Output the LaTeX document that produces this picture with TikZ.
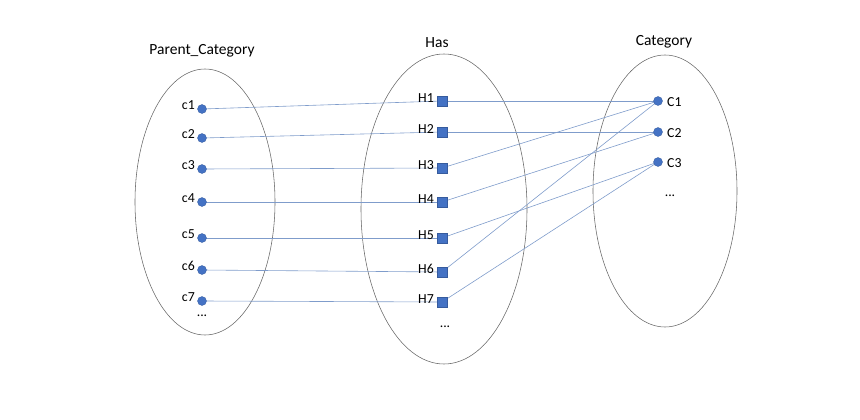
\documentclass[tikz,border=0pt]{standalone}
\usepackage{fontspec}
\setmainfont{Carlito}
\begin{document}
\begin{tikzpicture}[x=1pt,y=-1pt,
  set/.style={draw=black!60,line width=0.55pt},
  pt/.style={circle,fill=dotblue,draw=dotblue!80!black,line width=0.3pt,inner sep=0pt,minimum size=9pt},
  sq/.style={rectangle,fill=dotblue,draw=dotblue!80!black,line width=0.3pt,inner sep=0pt,minimum size=9.5pt},
  lab/.style={font=\fontsize{13.8}{16}\selectfont,inner sep=1pt},
  ttl/.style={font=\fontsize{15.5}{18}\selectfont},
  link/.style={draw=linkblue,line width=0.6pt}]
\definecolor{dotblue}{HTML}{4472C4}
\definecolor{linkblue}{HTML}{7F9CCB}
\useasboundingbox (0,0) rectangle (860,420);
% sets
\draw[set] (205,202) ellipse [x radius=70, y radius=133];
\draw[set] (444,209) ellipse [x radius=83, y radius=155];
\draw[set] (665,191) ellipse [x radius=72, y radius=136];
% titles
\node[ttl] (tp) at (202,51) {Parent\_Category};
\node[ttl] (th) at (437,43) {Has};
\node[ttl] (tc) at (664,42) {Category};
% link end points
\foreach \i/\y in {1/101,2/132,3/168,4/202,5/238,6/272,7/302}{
  \coordinate (hh\i) at (442,\y);
}
\foreach \i/\y in {1/109,2/138,3/169,4/202,5/238,6/270,7/301}{
  \coordinate (cc\i) at (202,\y);
  \draw[link] (cc\i) -- (hh\i);
}
\foreach \i/\y in {1/101,2/132,3/162}{
  \coordinate (kk\i) at (658,\y);
}
\draw[link] (hh1) -- (kk1);
\draw[link] (hh2) -- (kk2);
\draw[link] (hh3) -- (kk1);
\draw[link] (hh4) -- (kk2);
\draw[link] (hh5) -- (kk3);
\draw[link] (hh6) -- (kk1);
\draw[link] (hh7) -- (kk3);
% markers and labels
\foreach \i in {1,...,7}{
  \node[pt] (c\i) at (cc\i) {};
  \node[lab,anchor=east] (lc\i) at ([xshift=-6pt,yshift=4pt]cc\i) {c\i};
  \node[sq] (h\i) at (hh\i) {};
  \node[lab,anchor=east] (lh\i) at ([xshift=-7pt,yshift=3pt]hh\i) {H\i};
}
\node[lab] (dp) at (202,316) {...};
\node[lab] (dh) at (445,327) {...};
\foreach \i in {1,2,3}{
  \node[pt] (k\i) at (kk\i) {};
  \node[lab,anchor=west] (lk\i) at ([xshift=8pt,yshift=-1pt]kk\i) {C\i};
}
\node[lab] (dc) at (670,196) {...};
\end{tikzpicture}
\end{document}
